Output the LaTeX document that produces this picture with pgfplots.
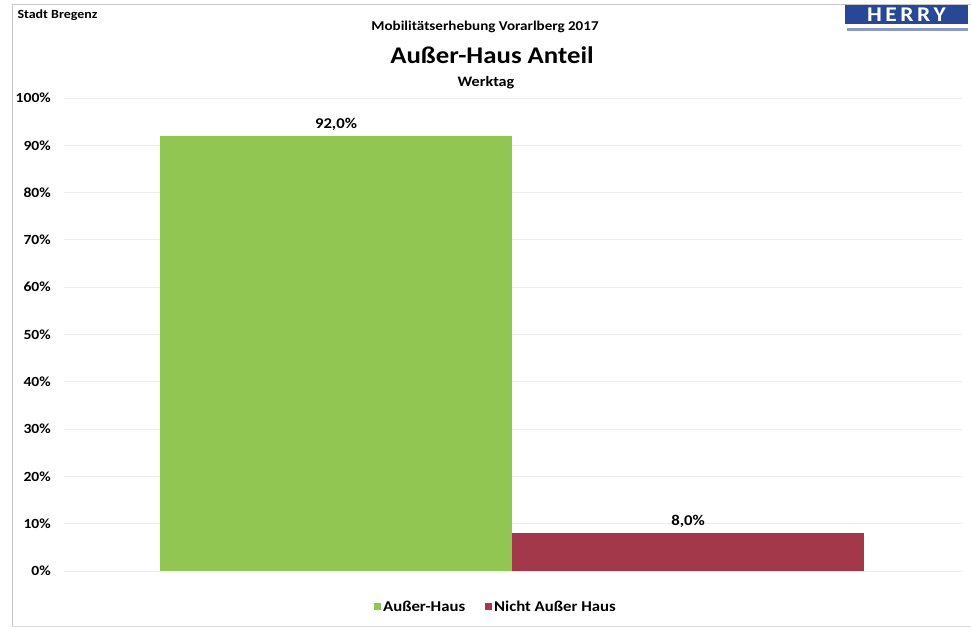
\documentclass[border=0pt]{standalone}
\usepackage{pgfplots}
\pgfplotsset{compat=1.18}
\usepackage{fontspec}
\setmainfont{Carlito}[FakeStretch=1.12]
\definecolor{gruen}{RGB}{146,198,82}
\definecolor{rot}{RGB}{163,56,74}
\definecolor{herryblue}{RGB}{40,72,150}
\definecolor{gridc}{RGB}{236,236,236}
\begin{document}
\begin{tikzpicture}[x=1bp,y=1bp]
\useasboundingbox (0,0) rectangle (971,629);
\draw[gray!45,line width=0.8bp] (12,3) -- (12,625) -- (980,625);
\draw[gray!30,line width=0.8bp] (12,3) -- (980,3);
% titles
\node[anchor=west,font=\fontsize{12.5}{14}\selectfont\bfseries] at (14,614) {Stadt Bregenz};
\node[font=\fontsize{13.5}{16}\selectfont\bfseries] at (485,602) {Mobilitätserhebung Vorarlberg 2017};
\node[font=\fontsize{24}{28}\selectfont\bfseries] at (492,574) {Außer-Haus Anteil};
\node[font=\fontsize{14.5}{17}\selectfont\bfseries] at (486,546) {Werktag};
% logo
\fill[herryblue] (845,605) rectangle (968,624);
\node[text=white,font=\fontsize{21}{21}\selectfont\bfseries] at (906.5,614.5) {H\,E\,R\,R\,Y};
\fill[herryblue!55] (847,598) rectangle (968,601);
\begin{axis}[
  at={(64bp,58bp)}, anchor=south west,
  scale only axis, width=898bp, height=473bp,
  xmin=64, xmax=962, ymin=0, ymax=100,
  axis line style={draw=none},
  xtick=\empty,
  ytick={0,10,...,100},
  yticklabel={\pgfmathprintnumber{\tick}\%},
  yticklabel style={anchor=east, inner sep=0pt, xshift=-13bp,
    font=\fontsize{14}{16}\selectfont\bfseries},
  /pgf/number format/assume math mode=true,
  major tick length=0pt,
  ymajorgrids, grid style={gridc, line width=0.8bp},
  ybar=0pt, bar width=352,
  legend style={at={(0.481,-0.076)}, anchor=center, draw=none,
    legend columns=2, font=\fontsize{15}{17}\selectfont\bfseries,
    /tikz/every even column/.append style={column sep=18bp}},
  legend image code/.code={\fill[#1] (0bp,-3.5bp) rectangle (7bp,3.5bp);},
  nodes near coords style={font=\fontsize{15}{17}\selectfont\bfseries, yshift=2bp},
]
\addplot[fill=gruen, draw=none, bar shift=-176,
  nodes near coords={92,0\%}] coordinates {(512,92.0)};
\addlegendentry{Außer-Haus}
\addplot[fill=rot, draw=none, bar shift=176,
  nodes near coords={8,0\%}] coordinates {(512,8.0)};
\addlegendentry{Nicht Außer Haus}
\end{axis}
\end{tikzpicture}
\end{document}
